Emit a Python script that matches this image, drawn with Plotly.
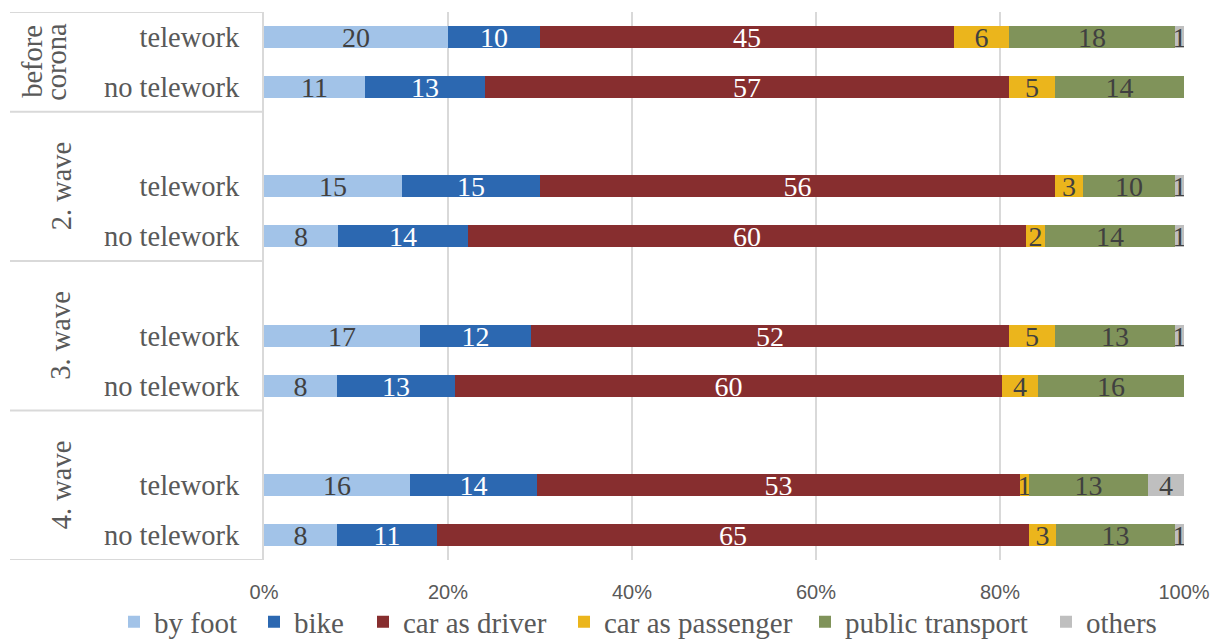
import plotly.graph_objects as go

# Survey groups and the two respondent conditions shown per group
groups = ["before<br>corona", "2. wave", "3. wave", "4. wave"]
conditions = ["telework", "no telework"]

# Mode shares (%) in row order:
# before corona (telework, no telework), 2. wave (...), 3. wave (...), 4. wave (...)
by_foot = [20, 11, 15, 8, 17, 8, 16, 8]
bike = [10, 13, 15, 14, 12, 13, 14, 11]
car_as_driver = [45, 57, 56, 60, 52, 60, 53, 65]
car_as_passenger = [6, 5, 3, 2, 5, 4, 1, 3]
public_transport = [18, 14, 10, 14, 13, 16, 13, 13]
others = [1, 0, 1, 1, 1, 0, 4, 1]

x_ticks = [0, 20, 40, 60, 80, 100]

series = [
    ("by foot", by_foot, "#A2C3E8", "#404040"),
    ("bike", bike, "#2C68B1", "#FFFFFF"),
    ("car as driver", car_as_driver, "#872E2F", "#FFFFFF"),
    ("car as passenger", car_as_passenger, "#EBB51C", "#404040"),
    ("public transport", public_transport, "#80935A", "#404040"),
    ("others", others, "#BFBFBF", "#404040"),
]

SERIF = "Liberation Serif"
SANS = "Liberation Sans"
GRID = "#D9D9D9"
TEXT = "#595959"

PLOT_L, PLOT_R, PLOT_T, PLOT_B = 264, 1184, 12, 560
W, H = 1212, 639


def px_to_paper_x(px):
    return (px - PLOT_L) / (PLOT_R - PLOT_L)


def px_to_paper_y(py):
    return (PLOT_B - py) / (PLOT_B - PLOT_T)


# Row slots: each group after the first starts with an empty slot
row_pos, row_lab, group_bounds, group_mid = [], [], [0], []
slot = 0
for gi, g in enumerate(groups):
    start = slot
    if gi > 0:
        slot += 1
    for c in conditions:
        row_pos.append(slot + 0.5)
        row_lab.append(c)
        slot += 1
    group_bounds.append(slot)
    group_mid.append((start + slot) / 2)
n_slots = slot

# where each legend entry's text begins along the bottom row (pixels)
legend_text_px = [154, 294, 403, 604, 845, 1086]

fig = go.Figure()
legend_layouts = {}
for i, (name, vals, color, tcol) in enumerate(series):
    lkey = "legend" if i == 0 else f"legend{i + 1}"
    fig.add_trace(go.Bar(
        name=name,
        x=vals,
        y=row_pos,
        orientation="h",
        width=0.44,
        marker=dict(color=color, line=dict(width=0)),
        text=[str(v) if v > 0 else "" for v in vals],
        texttemplate="%{text}",
        textposition="inside",
        insidetextanchor="middle",
        textangle=0,
        constraintext="none",
        textfont=dict(family=SERIF, size=28, color=tcol),
        hoverinfo="name+text",
        legend=lkey,
        showlegend=True,
    ))
    legend_layouts[lkey] = dict(
        orientation="h",
        x=px_to_paper_x(legend_text_px[i] - 40), xanchor="left",
        y=px_to_paper_y(622), yanchor="middle",
        font=dict(family=SERIF, size=29, color=TEXT),
        itemwidth=30, borderwidth=0, bgcolor="rgba(0,0,0,0)",
    )

shapes = []
# horizontal separators across the category column
for b in group_bounds:
    shapes.append(dict(type="line", xref="paper", yref="y",
                       x0=px_to_paper_x(10), x1=0, y0=b, y1=b,
                       line=dict(color=GRID, width=2)))

annotations = []
for g, m in zip(groups, group_mid):
    lines = g.split("<br>")
    n = len(lines)
    for k, line in enumerate(lines):
        cx = 33 + k * 24 if n > 1 else 61
        annotations.append(dict(
            text=line, x=px_to_paper_x(cx), xref="paper", y=m, yref="y",
            xanchor="center", yanchor="middle", textangle=-90,
            showarrow=False, font=dict(family=SERIF, size=28.5, color=TEXT),
        ))

fig.update_layout(
    width=W, height=H,
    margin=dict(l=PLOT_L, r=W - PLOT_R, t=PLOT_T, b=H - PLOT_B,
                autoexpand=False),
    paper_bgcolor="white", plot_bgcolor="white",
    barmode="stack", barnorm="percent", bargap=0,
    xaxis=dict(range=[0, 100], tickvals=x_ticks,
               ticktext=[f"{t}%" for t in x_ticks],
               showgrid=True, gridcolor=GRID, gridwidth=2,
               zeroline=False, showline=False, ticks="",
               ticklabelstandoff=18,
               tickfont=dict(family=SANS, size=20, color=TEXT)),
    yaxis=dict(range=[n_slots, 0], tickvals=row_pos, ticktext=row_lab,
               showgrid=False, zeroline=False, showline=True,
               linecolor=GRID, linewidth=2, ticks="",
               ticklabelstandoff=17,
               tickfont=dict(family=SERIF, size=28.5, color=TEXT)),
    shapes=shapes,
    annotations=annotations,
    **legend_layouts,
)

fig.write_html("out.html", config={"displayModeBar": False})
